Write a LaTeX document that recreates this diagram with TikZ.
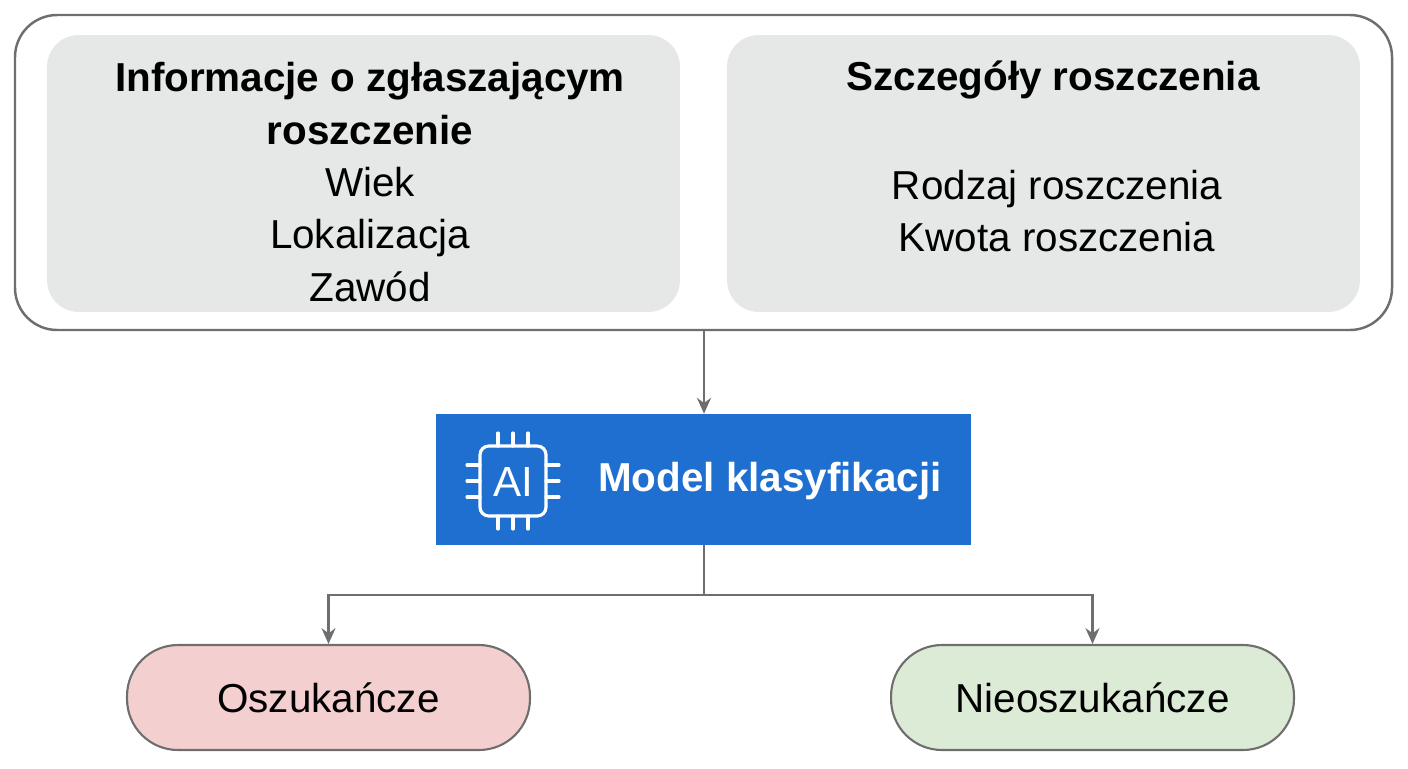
\documentclass[tikz,border=0pt]{standalone}
\usepackage{fontspec}
\setmainfont{Liberation Sans}
\usetikzlibrary{positioning,arrows.meta}
\definecolor{panelgray}{HTML}{E6E8E8}
\definecolor{modelblue}{HTML}{1E6FCF}
\definecolor{redfill}{HTML}{F4CFCF}
\definecolor{greenfill}{HTML}{DCEBD6}
\definecolor{linegray}{HTML}{6E6E6E}
\tikzset{
  panel/.style = {fill = panelgray, rounded corners = 18pt, draw = none},
  result/.style = {draw = linegray, line width = 1.2pt, rounded corners = 29pt, minimum width = 8.06cm, minimum height = 2.1cm, font = \fontsize{23}{28}\selectfont},
  link/.style = {draw = linegray, line width = 1.2pt, -{Stealth[length = 9pt, width = 8pt]}},
  pin/.style = {white, line width = 1.8pt, line cap = round}
}
\begin{document}
\begin{tikzpicture}[x = 0.02cm, y = -0.02cm]%drzewo decyzji
	\useasboundingbox (0,0) rectangle (1408,768);
	% ramka wejsc
	\draw[linegray, line width = 1.4pt, rounded corners = 24pt] (15,15) rectangle (1392,330);
	\node[panel, minimum width = 12.66cm, minimum height = 5.54cm] (PL) at (363.5,173.5) {};
	\node[panel, minimum width = 12.66cm, minimum height = 5.54cm] (PR) at (1043.5,173.5) {};
	\node[align = center, font = \fontsize{23}{29.8}\selectfont] (TL) at (370,182)
	{\textbf{Informacje o zgłaszającym}\\ \textbf{roszczenie}\\ Wiek\\ Lokalizacja\\ Zawód};
	\node[font = \bfseries\fontsize{23}{26}\selectfont] (TR) at (1053,80) {Szczegóły roszczenia};
	\node[align = center, font = \fontsize{23}{29.8}\selectfont] (TR2) at (1057,211) {Rodzaj roszczenia\\ Kwota roszczenia};
	\coordinate (IN) at (704,330);
	% model
	\node[fill = modelblue, minimum width = 10.7cm, minimum height = 2.62cm] (MODEL) at (703.5,479.5) {};
	\node[white, font = \bfseries\fontsize{23}{26}\selectfont, anchor = west] (ML) at (592,481) {Model klasyfikacji};
	\draw[white, line width = 1.8pt, rounded corners = 5pt] (480,446) rectangle (546,516);
	\node[white, font = \fontsize{24}{26}\selectfont] (AI) at (513,482) {AI};
	\foreach \x in {498,513,528} {
		\draw[pin] (\x,446) -- ++(0,-13);
		\draw[pin] (\x,516) -- ++(0,13);
	}
	\foreach \y in {465,481,497} {
		\draw[pin] (480,\y) -- ++(-13,0);
		\draw[pin] (546,\y) -- ++(13,0);
	}
	\draw[link] (IN) -- (IN |- MODEL.north);
	% wyniki
	\node[result, fill = redfill] (FRAUD) at (328.5,697.5) {Oszukańcze};
	\node[result, fill = greenfill] (OK) at (1092.5,697.5) {Nieoszukańcze};
	\coordinate (SPLIT) at (704,595);
	\draw[linegray, line width = 1.2pt] (SPLIT |- MODEL.south) -- (SPLIT);
	\draw[link] (SPLIT) -| (FRAUD.north);
	\draw[link] (SPLIT) -| (OK.north);
\end{tikzpicture}
\end{document}
